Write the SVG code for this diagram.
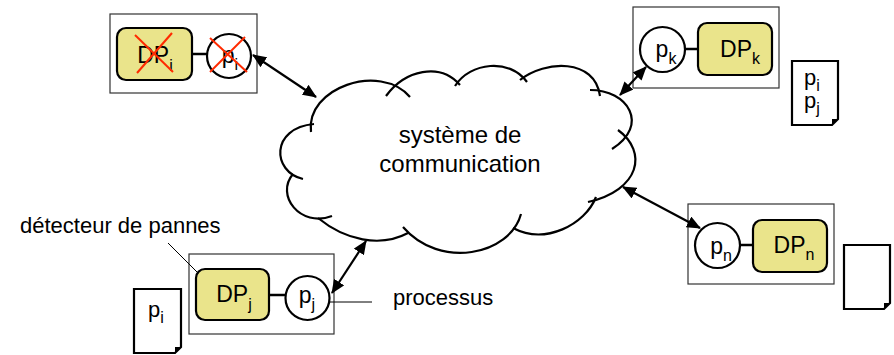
<svg xmlns="http://www.w3.org/2000/svg" width="894" height="355" viewBox="0 0 894 355">
<defs>
<style>
text{font-family:"Liberation Sans",Arial,sans-serif;fill:#000}
.lbl{font-size:22px}
.cl{font-size:24px}
.dp{font-size:23px}
.sub{font-size:16px}
.box{fill:none;stroke:#333;stroke-width:1.2}
.det{fill:#EAE48B;stroke:#000;stroke-width:2.2}
.proc{fill:#fff;stroke:#000;stroke-width:2.2}
.link{stroke:#000;stroke-width:2.5}
.cloud{fill:none;stroke:#000;stroke-width:2.2;stroke-linecap:butt}
.arr{stroke:#000;stroke-width:2.2;fill:none;marker-start:url(#ah);marker-end:url(#ah)}
.lead{stroke:#000;stroke-width:1;fill:none}
.cross{stroke:#FF2A00;stroke-width:2}
.doc{fill:#fff;stroke:#000;stroke-width:2.2}
</style>
<marker id="ah" viewBox="0 0 14 12" refX="13" refY="6" markerWidth="14" markerHeight="12" markerUnits="userSpaceOnUse" orient="auto-start-reverse">
<path d="M0,0 L14,6 L0,12 Z" fill="#000"/>
</marker>
</defs>

<g id="cloud">
<path class="cloud" d="M311,132 C305,88 380,62 410,97"/>
<path class="cloud" d="M386,96 C405,70 440,62 460,85"/>
<path class="cloud" d="M455,86 C470,62 510,58 527,82"/>
<path class="cloud" d="M520,80 C545,60 595,58 600,96"/>
<path class="cloud" d="M590,90 C628,90 650,125 612,149"/>
<path class="cloud" d="M618,130 C648,152 640,190 588,202"/>
<path class="cloud" d="M596,197 C585,225 545,245 513,228"/>
<path class="cloud" d="M521,214 C510,255 440,270 403,227"/>
<path class="cloud" d="M408,233 C380,248 345,240 318,218"/>
<path class="cloud" d="M332,216 C300,228 275,195 293,174"/>
<path class="cloud" d="M303,179 C272,172 270,128 314,124"/>
<text class="cl" x="460" y="143" text-anchor="middle">système de</text>
<text class="cl" x="460" y="172" text-anchor="middle">communication</text>
</g>

<g id="node-i">
<rect class="box" x="110" y="14" width="147" height="79"/>
<line class="link" x1="192" y1="54" x2="208" y2="54"/>
<rect class="det" x="117" y="28" width="75" height="52" rx="9"/>
<circle class="proc" cx="229" cy="56" r="22"/>
<text class="dp" x="155" y="63" text-anchor="middle">DP<tspan class="sub" dy="8">i</tspan></text>
<text class="dp" x="230" y="63" text-anchor="middle">p<tspan class="sub" dy="7">i</tspan></text>
<line class="cross" x1="135" y1="35" x2="173" y2="72"/>
<line class="cross" x1="172" y1="33" x2="137" y2="73"/>
<line class="cross" x1="210" y1="38" x2="247" y2="72"/>
<line class="cross" x1="245" y1="37" x2="210" y2="72"/>
</g>

<g id="node-k">
<rect class="box" x="633" y="7" width="146" height="81"/>
<line class="link" x1="684" y1="49" x2="699" y2="49"/>
<circle class="proc" cx="662.5" cy="49.5" r="22.5"/>
<rect class="det" x="698" y="23" width="74" height="52" rx="9"/>
<text class="dp" x="740" y="57" text-anchor="middle">DP<tspan class="sub" dy="7">k</tspan></text>
<text class="dp" x="666" y="57" text-anchor="middle">p<tspan class="sub" dy="7">k</tspan></text>
</g>

<g id="node-j">
<rect class="box" x="189" y="254" width="145" height="80"/>
<line class="link" x1="269" y1="295" x2="286" y2="295"/>
<rect class="det" x="196" y="269" width="73" height="51" rx="9"/>
<circle class="proc" cx="307.5" cy="298" r="22"/>
<text class="dp" x="234" y="302" text-anchor="middle">DP<tspan class="sub" dy="8">j</tspan></text>
<text class="dp" x="307" y="303" text-anchor="middle">p<tspan class="sub" dy="7">j</tspan></text>
</g>

<g id="node-n">
<rect class="box" x="688" y="204" width="146" height="80"/>
<line class="link" x1="739" y1="245" x2="754" y2="245"/>
<circle class="proc" cx="717.5" cy="245.5" r="22.5"/>
<rect class="det" x="753" y="220" width="74" height="52" rx="9"/>
<text class="dp" x="794" y="253" text-anchor="middle">DP<tspan class="sub" dy="7">n</tspan></text>
<text class="dp" x="721" y="254" text-anchor="middle">p<tspan class="sub" dy="7">n</tspan></text>
</g>

<g id="doc-k">
<path class="doc" d="M792,61 H838 V119 L832,125 H792 Z"/>
<path d="M838,119 L832,125 L832,119 Z" fill="#000"/>
<text class="lbl" x="804" y="85">p<tspan class="sub" dy="6">i</tspan></text>
<text class="lbl" x="804" y="108">p<tspan class="sub" dy="6">j</tspan></text>
</g>

<g id="doc-j">
<path class="doc" d="M134,289 H181 V347 L175,353 H134 Z"/>
<path d="M181,347 L175,353 L175,347 Z" fill="#000"/>
<text class="lbl" x="148" y="317">p<tspan class="sub" dy="6">i</tspan></text>
</g>

<g id="doc-n">
<path class="doc" d="M844,245 H890 V303 L884,309 H844 Z"/>
<path d="M890,303 L884,309 L884,303 Z" fill="#000"/>
</g>

<g id="labels">
<text class="lbl" x="20" y="233">détecteur de pannes</text>
<text class="lbl" x="393" y="305">processus</text>
</g>

<g id="connectors">
<line class="arr" x1="253" y1="55" x2="316" y2="97"/>
<line class="arr" x1="620" y1="95" x2="646" y2="67"/>
<line class="arr" x1="623" y1="187" x2="700" y2="228"/>
<line class="arr" x1="366" y1="241" x2="332" y2="293"/>
<line class="lead" x1="168" y1="243" x2="197" y2="272"/>
<line class="lead" x1="329" y1="302" x2="372" y2="302"/>
</g>
</svg>
